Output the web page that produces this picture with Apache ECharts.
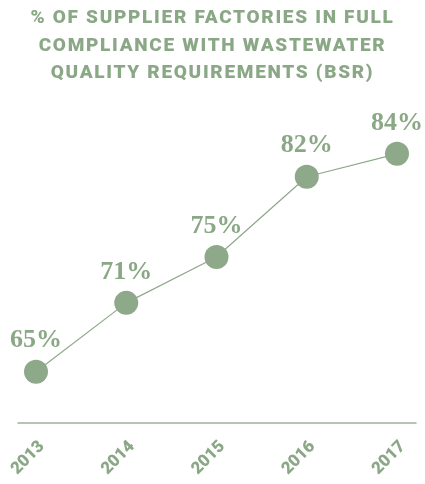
<!DOCTYPE html>
<html>
<head>
<meta charset="utf-8">
<script src="https://cdn.jsdelivr.net/npm/echarts@6/dist/echarts.min.js"></script>
<style>
html,body{margin:0;padding:0;background:#fff;}
.wrap{position:relative;width:425px;height:484px;}
#chart{width:425px;height:484px;}
/* title kept in DOM so it can use letter-spacing */
.chart_title{position:absolute;top:3px;left:0;width:425px;text-align:center;
  color:#8ba886;font-family:Roboto,sans-serif;font-weight:900;font-size:19px;
  line-height:27.5px;letter-spacing:1.7px;z-index:2;}
</style>
</head>
<body>
<div class="wrap">
    <div class="chart_title" id="title"></div>
    <div id="chart"></div>
</div>
<script type="text/javascript">
var years = ['2013', '2014', '2015', '2016', '2017'];
var compliance = [65, 71, 75, 82, 84];
var titleLines = ['% OF SUPPLIER FACTORIES IN FULL', 'COMPLIANCE WITH WASTEWATER', 'QUALITY REQUIREMENTS (BSR)'];

var green = '#8ba886';
document.getElementById('title').innerHTML = titleLines.join('<br>');

var chart = echarts.init(document.getElementById('chart'));
var option = {
    backgroundColor: '#fff',
    animation: false,
    grid: [
        {left: 36, right: 28, top: 85, bottom: 55},  // data
        {left: 18, right: 9, top: 85, bottom: 61}     // baseline only
    ],
    xAxis: [
        {
            type: 'category',
            gridIndex: 0,
            data: years,
            boundaryGap: false,
            axisLine: {show: false},
            axisTick: {show: false},
            axisLabel: {
                rotate: 45,
                margin: 9,
                verticalAlign: 'top',
                color: green,
                fontFamily: 'Roboto',
                fontWeight: 900,
                fontSize: 17
            }
        },
        {
            type: 'value',
            gridIndex: 1,
            min: 0,
            max: 1,
            axisLine: {show: true, lineStyle: {color: '#9ab496', width: 1.5}},
            axisTick: {show: false},
            axisLabel: {show: false},
            splitLine: {show: false}
        }
    ],
    yAxis: [
        {type: 'value', gridIndex: 0, min: 60, max: 90, show: false},
        {type: 'value', gridIndex: 1, min: 0, max: 1, show: false}
    ],
    series: [
        {
            type: 'line',
            xAxisIndex: 0,
            yAxisIndex: 0,
            data: compliance,
            symbol: 'circle',
            symbolSize: 24,
            itemStyle: {color: '#8ea88a'},
            lineStyle: {color: '#8ea88a', width: 1.2},
            label: {
                show: true,
                position: 'top',
                distance: 6,
                formatter: '{c}%',
                color: green,
                fontFamily: 'Liberation Serif',
                fontWeight: 'bold',
                fontSize: 26
            }
        }
    ]
};
chart.setOption(option);
</script>
</body>
</html>
